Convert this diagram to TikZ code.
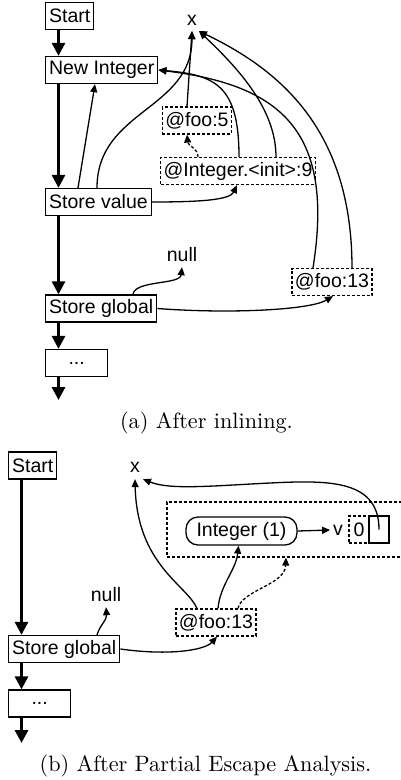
\documentclass[tikz,border=0pt]{standalone}
\usepackage{fontspec}
\setsansfont{Liberation Sans}
\usetikzlibrary{arrows.meta,calc,positioning}

\begin{document}
\begin{tikzpicture}[x=1pt,y=-1pt]
	\tikzstyle{every node}=[font=\sffamily\fontsize{19.5}{22}\selectfont]
	\tikzstyle{block}=[draw, line width=1.3pt, inner xsep=3.5pt, inner ysep=0pt, minimum height=27pt, anchor=west]
	\tikzstyle{dblock}=[draw, line width=1.2pt, dash pattern=on 3pt off 2pt, inner xsep=3pt, inner ysep=0pt, minimum height=27pt]
	\tikzstyle{flow}=[line width=3pt, -{Triangle[length=13pt,width=13pt]}]
	\tikzstyle{link}=[line width=1.3pt, -{Triangle[length=8pt,width=7pt]}]
	\tikzstyle{dlink}=[link, dash pattern=on 3pt off 2pt]
	\tikzstyle{caption}=[font=\rmfamily\fontsize{10}{12}\selectfont]
	\useasboundingbox (0,0) rectangle (401,780);
	% (a) after inlining
	\node [block] (start) at (45,16) {Start};
	\node [block] (newint) at (45,70) {New Integer};
	\node [block] (storeval) at (45,202) {Store value};
	\node [block] (storeglob) at (45,308.5) {Store global};
	\node [block, minimum width=62pt] (dots) at (45,363) {...};
	\coordinate (enda) at (58.5,400);
	\node [inner sep=0pt, outer sep=6pt] (xa) at (192,20) {x};
	\node [dblock] (foofive) at (197,120.5) {@foo:5};
	\node [dblock] (initnine) at (238,171) {@Integer.<init>:9};
	\node [inner sep=0pt, outer sep=5pt] (nulla) at (182,255) {null};
	\node [dblock] (foothirteen) at (332,282) {@foo:13};
	\draw [flow] ([xshift=13.5pt]start.south west) -- ([xshift=13.5pt]newint.north west);
	\draw [flow] ([xshift=13.5pt]newint.south west) -- ([xshift=13.5pt]storeval.north west);
	\draw [flow] ([xshift=13.5pt]storeval.south west) -- ([xshift=13.5pt]storeglob.north west);
	\draw [flow] ([xshift=13.5pt]storeglob.south west) -- ([xshift=13.5pt]dots.north west);
	\draw [flow] ([xshift=13.5pt]dots.south west) -- (enda);
	\draw [link] ([xshift=33pt]storeval.north west) -- ([xshift=50pt]newint.south west);
	\draw [link] ([xshift=52pt]storeval.north west) .. controls (97,110) and (192,110) .. (xa.south);
	\draw [link] ([xshift=-10pt]foofive.north) -- (xa.south);
	\draw [dlink] ([xshift=-40pt]initnine.north) .. controls (198,148) and (188,146) .. ([xshift=-10pt]foofive.south);
	\draw [link] ([xshift=1pt]initnine.north) .. controls (239,85) and (215,75) .. (newint.east);
	\draw [link] ([xshift=38pt]initnine.north) .. controls (276,110) and (240,70) .. ([xshift=7pt]xa.south);
	\draw [link] ([xshift=20pt]foothirteen.north) .. controls (352,130) and (280,70) .. ([xshift=7pt]xa.south);
	\draw [link] ([xshift=-19pt]foothirteen.north) .. controls (335,130) and (280,85) .. (newint.east);
	\draw [link] (storeval.east) .. controls (200,202) and (230,200) .. ([xshift=-1pt]initnine.south);
	\draw [link] ([xshift=88pt]storeglob.north west) .. controls (135,280) and (180,285) .. (nulla.south);
	\draw [link] (storeglob.east) .. controls (230,314) and (310,310) .. ([xshift=1pt]foothirteen.south);
	\node [caption] (capa) at (206.5,423) {\scalebox{2.22}{(a) After inlining.}};
	% (b) after partial escape analysis
	\node [block] (startb) at (8,465.5) {Start};
	\node [block] (storeglobb) at (8,649) {Store global};
	\node [block, minimum width=62pt] (dotsb) at (8,703.5) {...};
	\coordinate (endb) at (21.5,743);
	\node [inner sep=0pt, outer sep=7pt] (xb) at (135,467) {x};
	\node [inner sep=0pt, outer sep=5pt] (nullb) at (106,595) {null};
	\node [dblock] (foob) at (216,622.5) {@foo:13};
	\node [dblock, minimum width=260pt, minimum height=55pt] (virt) at (297,529.5) {};
	\node [draw, line width=1.3pt, rounded corners=12pt, minimum width=111pt, minimum height=28pt, inner sep=0pt] (intobj) at (241.5,531) {Integer (1)};
	\node [inner sep=0pt, outer sep=3pt] (vlab) at (338,530) {v};
	\node [dblock, minimum width=20pt, inner xsep=0pt] (fieldval) at (359,529.5) {0};
	\node [draw, line width=1.3pt, minimum width=20pt, minimum height=27pt, inner sep=0pt] (fieldref) at (379,529.5) {};
	\draw [flow] ([xshift=13.5pt]startb.south west) -- ([xshift=13.5pt]storeglobb.north west);
	\draw [flow] ([xshift=13.5pt]storeglobb.south west) -- ([xshift=13.5pt]dotsb.north west);
	\draw [flow] ([xshift=13.5pt]dotsb.south west) -- (endb);
	\draw [link] ([xshift=89pt]storeglobb.north west) .. controls (100,625) and (107,620) .. (nullb.south);
	\draw [link] (storeglobb.east) .. controls (170,656) and (205,650) .. ([xshift=1pt]foob.south);
	\draw [link] ([xshift=-19pt]foob.north) .. controls (187,585) and (137,565) .. (xb.south);
	\draw [link] ([xshift=2pt]foob.north) .. controls (220,585) and (236,570) .. ([xshift=-3pt]intobj.south);
	\draw [dlink] ([xshift=22pt]foob.north) .. controls (242,590) and (285,585) .. ([xshift=-11pt]virt.south);
	\draw [link] (intobj.east) -- (vlab.west);
	\draw [link] (fieldref.center) .. controls (379,480) and (330,480) .. (270,483) .. controls (210,486) and (170,490) .. ([xshift=8pt]xb.south);
	\node [caption] (capb) at (205.5,766) {\scalebox{2.22}{(b) After Partial Escape Analysis.}};
\end{tikzpicture}
\end{document}
